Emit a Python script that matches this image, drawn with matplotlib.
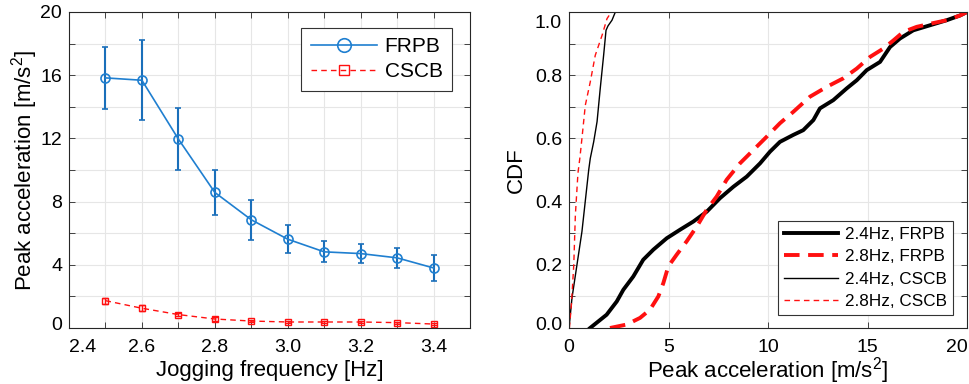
import numpy as np
import matplotlib
matplotlib.use('Agg')
import matplotlib.pyplot as plt
from matplotlib.transforms import ScaledTranslation

plt.rcParams['font.family'] = ['Liberation Sans', 'DejaVu Sans']
plt.rcParams['mathtext.fontset'] = 'custom'
plt.rcParams['mathtext.rm'] = 'Liberation Sans'

# left panel: peak acceleration vs jogging frequency
freq = [2.5, 2.6, 2.7, 2.8, 2.9, 3.0, 3.1, 3.2, 3.3, 3.4]
frpb_mean = [15.83, 15.68, 11.96, 8.58, 6.85, 5.62, 4.82, 4.71, 4.44, 3.80]
frpb_err = [1.95, 2.53, 1.96, 1.40, 1.27, 0.90, 0.67, 0.58, 0.63, 0.80]
cscb_mean = [1.73, 1.25, 0.85, 0.57, 0.44, 0.38, 0.38, 0.38, 0.34, 0.25]
cscb_err = [0.2, 0.18, 0.12, 0.1, 0.08, 0.07, 0.07, 0.07, 0.06, 0.05]

# right panel: CDF curves (x = peak acceleration, y = CDF)
frpb24_x = [1.06, 1.89, 2.40, 2.73, 3.23, 3.73, 4.24, 4.91, 5.58, 6.25, 6.92, 7.59, 8.26,
            8.93, 9.60, 10.10, 10.60, 11.27, 11.77, 12.28, 12.61, 13.28, 13.95, 14.46,
            14.96, 15.63, 16.13, 16.63, 17.30, 18.14, 18.98, 19.65, 20.0]
frpb24_y = [0.0, 0.042, 0.084, 0.121, 0.163, 0.216, 0.248, 0.284, 0.311, 0.337, 0.368,
            0.411, 0.447, 0.479, 0.521, 0.558, 0.589, 0.611, 0.626, 0.658, 0.695, 0.721,
            0.758, 0.784, 0.816, 0.842, 0.889, 0.916, 0.942, 0.958, 0.974, 0.989, 1.0]
frpb28_x = [2.06, 2.90, 3.57, 4.07, 4.49, 4.74, 4.99, 5.41, 5.91, 6.42, 6.92, 7.42, 7.92,
            8.59, 9.26, 9.93, 10.60, 11.27, 12.11, 12.95, 13.78, 14.46, 15.13, 15.79,
            16.30, 16.80, 17.47, 18.31, 18.98, 19.65, 20.0]
frpb28_y = [0.0, 0.011, 0.032, 0.058, 0.100, 0.142, 0.195, 0.232, 0.274, 0.321, 0.374,
            0.416, 0.469, 0.521, 0.563, 0.605, 0.648, 0.684, 0.732, 0.763, 0.790, 0.821,
            0.858, 0.884, 0.910, 0.937, 0.953, 0.965, 0.974, 0.989, 1.0]
cscb24_x = [0.0, 0.15, 0.40, 0.65, 0.99, 1.07, 1.24, 1.41, 1.57, 1.74, 1.86, 1.96, 2.16, 2.33]
cscb24_y = [0.0, 0.095, 0.200, 0.305, 0.500, 0.537, 0.589, 0.653, 0.758, 0.863, 0.942,
            0.956, 0.974, 1.0]
cscb28_x = [0.02, 0.12, 0.24, 0.32, 0.45, 0.55, 0.65, 0.82, 1.07, 1.32, 1.66, 1.91, 2.13]
cscb28_y = [0.0, 0.074, 0.200, 0.358, 0.490, 0.540, 0.600, 0.705, 0.779, 0.863,
            0.926, 0.979, 1.0]

blue = '#1f7fd0'
red = '#ff1010'
grid_c = '#e6e6e6'
spine_c = '#262626'

fig = plt.figure(figsize=(9.69, 3.84), dpi=100)
ax1 = fig.add_axes([69/969, 56/384, 401/969, 316/384])
ax2 = fig.add_axes([569/969, 56/384, 398/969, 316/384])

def style(ax):
    for s in ax.spines.values():
        s.set_color(spine_c)
        s.set_linewidth(0.8)
    ax.tick_params(direction='in', top=True, right=True, length=4, width=0.6,
                   color=spine_c, labelsize=14, pad=5)
    ax.tick_params(axis='x', pad=8)
    ax.grid(True, color=grid_c, linewidth=0.8)
    ax.set_axisbelow(True)

# ---- left
eb1 = ax1.errorbar(freq, frpb_mean, yerr=frpb_err, color=blue, ecolor='#1a6fba', lw=1.2,
                   elinewidth=1.5, capsize=2.5, marker='o', ms=6.5, mfc='none', mew=1.2)
eb2 = ax1.errorbar(freq, cscb_mean, yerr=cscb_err, color=red, lw=1.0, ls=(0, (4, 3)),
                   elinewidth=1.0, capsize=2, marker='s', ms=5, mfc='none', mew=1.0)
ax1.set_xlim(2.4, 3.5)
ax1.set_ylim(0, 20)
ax1.set_xticks(freq)
ax1.set_xticklabels(['', '2.6', '', '2.8', '', '3.0', '', '3.2', '', '3.4'])
ax1.set_xticks([2.437], ['2.4'], minor=True)
ax1.tick_params(axis='x', which='minor', length=0, labelsize=14, pad=8)
ax1.set_yticks(np.arange(0, 21, 2))
ax1.set_yticklabels([str(v) if v % 4 == 0 else '' for v in range(0, 21, 2)])
style(ax1)
ax1.set_xlabel('Jogging frequency [Hz]', fontsize=16, labelpad=3)
ax1.set_ylabel(r'Peak acceleration [m/s$^{2}$]', fontsize=16, labelpad=0)
leg1 = ax1.legend([eb1[0], eb2[0]], ['FRPB', 'CSCB'], loc='upper right',
                  bbox_to_anchor=(0.955, 0.95), borderaxespad=0, markerscale=1.5,
                  fontsize=15, handlelength=3.2, handletextpad=0.35, fancybox=False,
                  framealpha=1, edgecolor='#333333', borderpad=0.45, labelspacing=0.3)
leg1.get_frame().set_linewidth(0.8)
lab = ax1.get_yticklabels()[0]
lab.set_transform(lab.get_transform() + ScaledTranslation(0, 5/100, fig.dpi_scale_trans))

# ---- right
ax2.plot(frpb24_x, frpb24_y, color='black', lw=2.8, label='2.4Hz, FRPB')
ax2.plot(frpb28_x, frpb28_y, color=red, lw=2.8, ls=(0, (4, 2.2)), label='2.8Hz, FRPB')
ax2.plot(cscb24_x, cscb24_y, color='black', lw=1.0, label='2.4Hz, CSCB')
ax2.plot(cscb28_x, cscb28_y, color=red, lw=1.0, ls=(0, (4, 3)), label='2.8Hz, CSCB')
ax2.set_xlim(0, 20)
ax2.set_ylim(0, 1)
ax2.set_xticks([0, 5, 10, 15, 20])
ax2.set_yticks(np.round(np.arange(0, 1.01, 0.1), 1))
ax2.set_yticklabels(['%.1f' % v if i % 2 == 0 else '' for i, v in enumerate(np.arange(0, 1.01, 0.1))])
style(ax2)
ax2.set_xlabel(r'Peak acceleration [m/s$^{2}$]', fontsize=16, labelpad=-1)
ax2.set_ylabel('CDF', fontsize=16, labelpad=6)
leg2 = ax2.legend(loc='lower right', bbox_to_anchor=(0.965, 0.041), borderaxespad=0,
                  fontsize=12.3, handlelength=3.2, fancybox=False, framealpha=1,
                  edgecolor='#333333', borderpad=0.35, labelspacing=0.44, handletextpad=0.4)
leg2.get_frame().set_linewidth(0.8)
labs = ax2.get_yticklabels()
labs[0].set_transform(labs[0].get_transform() + ScaledTranslation(0, 5/100, fig.dpi_scale_trans))
labs[-1].set_transform(labs[-1].get_transform() + ScaledTranslation(0, -10/100, fig.dpi_scale_trans))
xl = ax2.get_xticklabels()
xl[-1].set_transform(xl[-1].get_transform() + ScaledTranslation(-10/100, 0, fig.dpi_scale_trans))

fig.savefig('out.png', dpi=100)
